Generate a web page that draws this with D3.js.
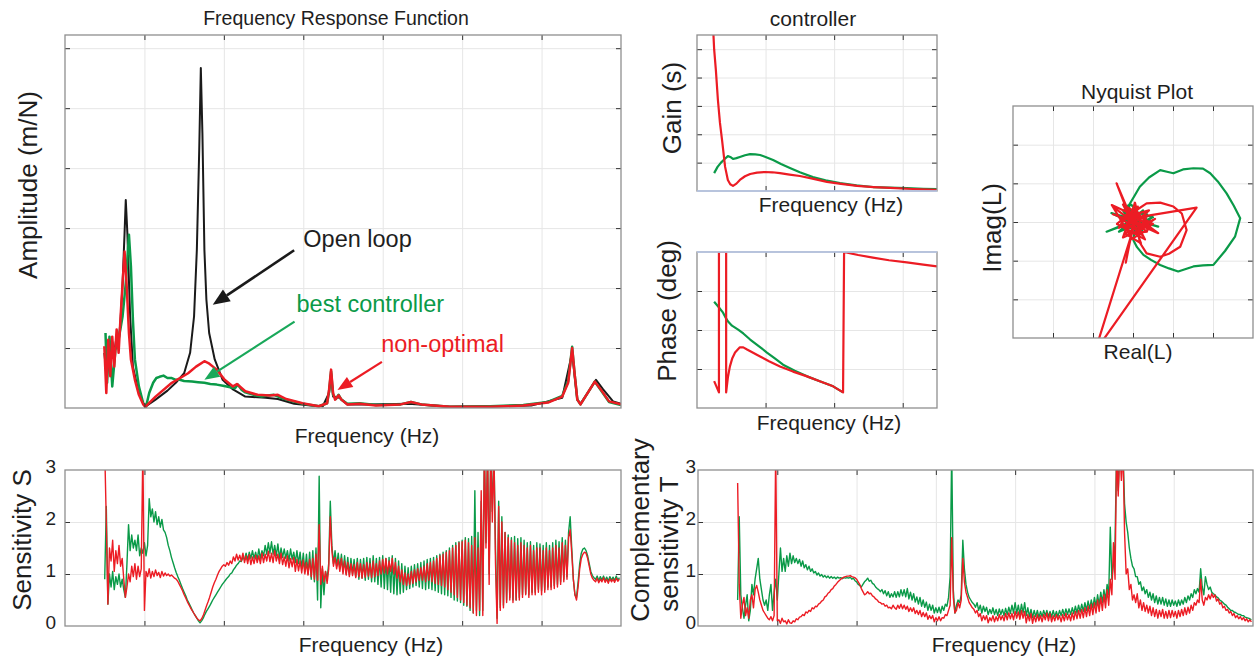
<!DOCTYPE html>
<html><head><meta charset="utf-8">
<script src="https://cdn.jsdelivr.net/npm/d3@7"></script>
<style>
body{margin:0;background:#fff;}
text{font-family:"Liberation Sans",Arial,Helvetica,sans-serif;fill:#1e1e1e;}
</style></head><body>
<script>
// ---------- data ----------
// Frequency response amplitude (m/N) vs frequency (Hz)
const frfBlack = [[99,0.92],[104,0.6],[109,1.03],[114,0.7],[119,1.1],[124,0.92],[130,1.2],[135,1.1],[140,1.47],[145,2.08],[150,2.92],[153,3.47],[157,2.92],[164,1.53],[171,0.69],[186,0.25],[197,0.08],[202,0.02],[228,0.14],[258,0.29],[279,0.42],[300,0.58],[315,0.92],[325,1.53],[332,2.64],[338,4.31],[342,5.67],[346,4.58],[351,2.64],[356,1.81],[363,1.25],[377,0.81],[397,0.47],[423,0.31],[454,0.19],[505,0.17],[536,0.15],[577,0.07],[619,0.04],[649,0.03],[665,0.25],[670,0.58],[675,0.19],[691,0.17],[711,0.06],[763,0.06],[866,0.07],[969,0.02],[1174,0.04],[1252,0.17],[1277,0.92],[1290,0.14],[1298,0.07],[1319,0.28],[1337,0.47],[1355,0.31],[1380,0.11],[1400,0.07]];
const frfGreen = [[102,1.25],[106,0.42],[112,1.19],[119,0.36],[127,0.97],[135,1.14],[145,1.53],[153,2.08],[161,2.89],[166,2.36],[171,1.47],[176,0.81],[186,0.36],[197,0.08],[204,0.02],[212,0.25],[222,0.42],[230,0.5],[238,0.52],[248,0.54],[258,0.5],[269,0.5],[279,0.47],[289,0.47],[300,0.45],[320,0.44],[335,0.43],[351,0.42],[366,0.4],[382,0.39],[398,0.37],[413,0.35],[428,0.33],[435,0.39],[445,0.3],[454,0.26],[475,0.22],[495,0.19],[510,0.21],[526,0.22],[540,0.18],[557,0.14],[598,0.07],[639,0.03],[660,0.08],[665,0.28],[670,0.61],[675,0.22],[682,0.15],[689,0.22],[696,0.14],[711,0.07],[742,0.08],[783,0.05],[845,0.06],[871,0.1],[897,0.06],[969,0.02],[1071,0.03],[1154,0.05],[1216,0.1],[1252,0.2],[1267,0.45],[1277,1.02],[1283,0.58],[1290,0.14],[1298,0.06],[1313,0.22],[1334,0.44],[1349,0.3],[1370,0.1],[1400,0.05]];
const frfRed = [[99,1.03],[104,0.25],[109,1.14],[114,0.53],[119,1.19],[124,0.69],[130,1.31],[135,0.92],[140,1.53],[145,2.08],[150,2.61],[155,2.08],[161,1.25],[166,0.81],[176,0.47],[186,0.22],[197,0.06],[202,0.02],[228,0.19],[269,0.42],[310,0.58],[330,0.69],[351,0.78],[361,0.75],[382,0.64],[402,0.47],[423,0.36],[433,0.4],[454,0.28],[485,0.22],[516,0.21],[536,0.22],[557,0.15],[598,0.08],[639,0.03],[660,0.08],[665,0.31],[670,0.64],[675,0.25],[680,0.14],[689,0.21],[696,0.14],[711,0.06],[742,0.07],[783,0.04],[845,0.06],[871,0.1],[897,0.06],[969,0.02],[1071,0.02],[1154,0.04],[1216,0.09],[1252,0.19],[1267,0.42],[1277,1.0],[1283,0.58],[1290,0.14],[1298,0.06],[1313,0.22],[1334,0.44],[1349,0.31],[1370,0.11],[1400,0.06]];

// Controller gain (s) and phase (deg) vs frequency (Hz)
const gainRed = [[44,6.5],[50,5.0],[55,4.27],[61,3.21],[67,2.4],[73,1.8],[82,0.85],[90,0.39],[97,0.24],[105,0.18],[115,0.26],[125,0.39],[140,0.52],[155,0.6],[175,0.65],[198,0.67],[220,0.66],[242,0.63],[270,0.58],[300,0.53],[340,0.43],[379,0.32],[420,0.25],[467,0.18],[515,0.14],[563,0.11],[630,0.07],[700,0.04]];
const gainGreen = [[50,0.63],[60,0.85],[70,1.0],[80,1.12],[90,1.23],[97,1.2],[105,1.13],[115,1.16],[125,1.2],[140,1.26],[155,1.3],[170,1.29],[184,1.27],[200,1.2],[222,1.09],[245,0.95],[271,0.81],[300,0.66],[338,0.49],[375,0.38],[417,0.28],[465,0.2],[513,0.14],[560,0.12],[612,0.1],[660,0.08],[700,0.07]];
const phaseRed = [[50,-118],[64,-144],[64,180],[85,180],[85,-144],[90,-110],[96,-84],[103,-65],[111,-52],[125,-40],[135,-40],[146,-45],[165,-53],[184,-61],[210,-72],[242,-84],[280,-96],[321,-107],[360,-119],[397,-130],[426,-144],[429,180],[470,173],[513,167],[560,161],[612,156],[660,151],[700,147]];
const phaseGreen = [[50,65],[63,53],[76,40],[84,28],[90,20],[102,10],[120,1],[135,-8],[155,-22],[180,-37],[204,-52],[228,-66],[251,-80],[285,-94],[321,-107],[360,-119],[397,-130],[426,-144]];

// Open-loop Nyquist curves [Re(L), Im(L)]
const nyqGreen = [[0,0],[-0.66,-0.25],[0.05,0.05],[0.63,-0.12],[-0.1,0.1],[-0.54,0.23],[0.1,-0.1],[0.42,0.05],[-0.3,-0.1],[-0.12,0.43],[0.2,-0.3],[0.35,0.2],[-0.25,0.3],[0.05,-0.2],[0.3,-0.05],[-0.2,-0.2],[0.25,0.3],[-0.35,-0.25],[0.5,0.12],[-0.2,0.35],[0.15,-0.35],[0.1,0.3],[-0.05,0.45],[-0.12,0.4],[0.05,0.7],[0.17,0.91],[0.4,1.15],[0.68,1.34],[0.85,1.3],[1.01,1.26],[1.25,1.36],[1.51,1.39],[1.75,1.38],[1.93,1.26],[2.12,1.05],[2.34,0.74],[2.52,0.42],[2.68,0.1],[2.55,-0.38],[2.3,-0.75],[2.01,-1.11],[1.75,-1.12],[1.51,-1.15],[1.13,-1.28],[0.9,-1.2],[0.68,-1.11],[0.45,-0.98],[0.26,-0.85],[0.1,-0.65],[0.01,-0.47],[0.05,-0.1]];
const nyqRed = [[0,0],[-0.41,1.0],[0,-0.1],[-0.18,-1.05],[0.05,0.15],[0.63,-0.29],[-0.1,0.05],[-0.5,0.2],[0.3,-0.1],[0.55,0.08],[-0.2,-0.3],[0.2,-0.55],[-0.1,0.3],[-0.35,-0.15],[0.35,0.15],[0.1,-0.25],[-0.25,0.45],[0.15,0.2],[0.45,-0.15],[-0.05,-0.45],[0,0.1],[0.25,-0.35],[-0.3,0.1],[0.4,0.3],[-0.15,-0.2],[0.12,0.4],[-0.4,-0.05],[0.3,-0.45],[-0.05,0.25],[0.5,-0.05],[-0.25,-0.4],[0.05,0.5],[0.2,-0.15],[-0.45,0.35],[0.35,-0.25],[-0.1,-0.3],[-0.53,0.44],[0.18,0.1],[0,0.1],[1.59,0.37],[-0.95,-3.35],[0,-0.2],[0.09,0.31],[0.34,0.48],[0.68,0.5],[1.01,0.4],[1.22,0.22],[1.34,-0.21],[1.18,-0.64],[0.9,-0.82],[0.68,-0.9],[0.34,-0.81],[0.18,-0.55],[0.1,-0.2]];

// Sensitivity S and complementary sensitivity T, sampled every 4 Hz from 100 Hz
const stFreq = d3.range(100, 1400, 4);
const sRed = [3.4,2.0,0.42,1.5,1.25,1.65,1.05,1.45,1.2,1.55,
1.15,1.3,0.9,0.55,0.75,1.0,0.85,1.15,0.95,1.2,
0.9,1.15,0.95,1.1,3.4,0.3,1.05,0.95,1.1,0.92,
1.05,0.95,1.08,0.97,1.03,0.93,1.05,0.96,1.02,0.97,
1.0,0.96,0.98,0.95,0.92,0.9,0.86,0.8,0.74,0.68,
0.6,0.54,0.47,0.41,0.35,0.3,0.25,0.2,0.15,0.12,
0.1,0.14,0.2,0.29,0.38,0.46,0.55,0.65,0.75,0.83,
0.9,0.98,1.05,1.1,1.15,1.18,1.15,1.22,1.17,1.25,
1.2,1.33,1.25,1.38,1.27,1.36,1.25,1.4,1.22,1.35,
1.2,1.37,1.18,1.33,1.2,1.36,1.22,1.35,1.2,1.4,
1.22,1.38,1.25,1.44,1.24,1.4,1.22,1.45,1.25,1.38,
1.2,1.4,1.18,1.33,1.15,1.35,1.12,1.3,1.14,1.32,
1.05,1.28,1.06,1.25,1.02,1.27,1.0,1.22,0.98,1.28,
0.95,1.3,0.9,1.38,0.88,1.95,0.8,1.15,0.85,1.05,
0.82,1.1,2.1,1.45,1.15,1.32,1.1,1.28,1.05,1.3,
1.0,1.25,0.98,1.22,0.95,1.2,0.97,1.18,0.93,1.22,
0.95,1.2,0.92,1.18,0.94,1.22,0.96,1.2,0.93,1.25,
0.95,1.2,0.97,1.25,1.0,1.28,1.02,1.3,1.0,1.25,
1.05,1.3,1.0,1.22,0.92,1.15,0.85,1.08,0.8,1.02,
0.78,1.0,0.8,1.05,0.82,1.08,0.85,1.1,0.88,1.12,
0.88,1.15,0.85,1.2,0.88,1.22,0.85,1.25,0.82,1.3,
0.8,1.35,0.78,1.38,0.75,1.42,0.7,1.45,0.65,1.5,
0.6,1.55,0.55,1.6,0.5,1.62,0.45,1.65,0.4,1.6,
0.35,1.55,0.25,1.7,0.2,1.5,0.3,2.6,0.2,3.4,
1.5,3.4,0.8,3.4,2.0,3.4,1.2,0.05,2.3,0.3,
2.0,0.35,1.8,0.45,1.7,0.5,1.65,0.45,1.6,0.5,
1.55,0.5,1.6,0.55,1.55,0.6,1.5,0.55,1.55,0.6,
1.45,0.6,1.5,0.65,1.5,0.6,1.45,0.65,1.5,0.7,
1.45,0.7,1.5,0.72,1.55,0.75,1.5,0.8,1.6,0.85,
1.55,0.9,1.7,1.85,1.4,0.9,0.6,0.5,0.75,1.1,
1.3,1.38,1.42,1.4,1.3,1.15,1.0,0.92,0.88,0.85,
0.92,0.83,0.9,0.85,0.93,0.84,0.9,0.82,0.91,0.85,
0.9,0.84,0.92,0.86,0.9];
const sGreen = [0.9,2.3,0.42,1.0,0.75,1.05,0.7,0.95,0.8,1.0,
0.75,0.9,0.7,0.55,1.2,1.95,1.45,1.75,1.5,1.65,
1.45,1.75,1.35,1.5,1.4,1.6,1.35,1.55,2.45,2.1,
2.25,2.0,2.2,1.95,2.1,1.9,2.05,1.85,1.8,1.7,
1.55,1.45,1.32,1.22,1.12,1.03,0.95,0.88,0.8,0.72,
0.65,0.58,0.5,0.44,0.38,0.31,0.25,0.2,0.15,0.1,
0.06,0.1,0.15,0.22,0.28,0.33,0.38,0.44,0.5,0.55,
0.6,0.65,0.7,0.75,0.8,0.84,0.88,0.92,0.95,1.0,
1.02,1.08,1.12,1.17,1.2,1.25,1.24,1.32,1.28,1.4,
1.27,1.42,1.3,1.45,1.3,1.42,1.28,1.48,1.3,1.45,
1.35,1.55,1.38,1.6,1.4,1.62,1.38,1.55,1.35,1.58,
1.3,1.5,1.32,1.48,1.3,1.45,1.25,1.48,1.28,1.42,
1.22,1.45,1.2,1.42,1.1,1.4,1.05,1.38,1.0,1.42,
0.9,1.45,0.85,1.5,0.5,2.88,0.35,1.1,0.6,1.05,
0.9,1.2,2.4,1.55,1.2,1.45,1.15,1.4,1.1,1.38,
1.05,1.35,1.0,1.32,0.98,1.3,1.0,1.28,0.95,1.3,
0.9,1.28,0.92,1.3,0.88,1.32,0.9,1.3,0.85,1.35,
0.85,1.3,0.8,1.32,0.75,1.35,0.72,1.3,0.7,1.32,
0.65,1.35,0.62,1.3,0.6,1.25,0.62,1.2,0.65,1.15,
0.7,1.12,0.72,1.15,0.75,1.18,0.78,1.2,0.75,1.22,
0.72,1.25,0.7,1.28,0.72,1.3,0.7,1.32,0.68,1.35,
0.65,1.38,0.62,1.42,0.6,1.45,0.58,1.5,0.55,1.55,
0.5,1.6,0.48,1.62,0.45,1.65,0.4,1.7,0.38,1.68,
0.3,1.72,0.25,2.6,0.3,1.8,0.2,2.4,0.3,3.4,
1.6,3.4,1.0,3.4,2.2,3.4,1.5,0.15,2.4,0.35,
2.1,0.4,1.8,0.5,1.75,0.55,1.7,0.5,1.72,0.5,
1.68,0.55,1.7,0.6,1.65,0.62,1.6,0.6,1.62,0.65,
1.55,0.65,1.6,0.7,1.58,0.68,1.55,0.7,1.6,0.75,
1.55,0.75,1.6,0.78,1.65,0.8,1.62,0.85,1.7,0.9,
1.65,0.95,1.8,2.1,1.5,0.9,0.6,0.55,0.85,1.2,
1.4,1.48,1.5,1.45,1.35,1.2,1.05,0.97,0.93,0.9,
0.96,0.87,0.95,0.88,0.96,0.87,0.94,0.86,0.95,0.88,
0.94,0.87,0.96,0.88,0.93];
const tRed = [2.75,0.8,0.15,0.4,0.55,0.2,0.35,0.15,0.5,0.6,
0.35,0.7,0.78,0.65,0.5,0.4,0.3,0.25,0.2,0.15,
0.12,0.18,0.1,0.2,3.4,0.1,0.12,0.05,0.15,0.08,
0.1,0.04,0.12,0.06,0.05,0.1,0.08,0.14,0.12,0.17,
0.18,0.22,0.2,0.27,0.25,0.3,0.28,0.35,0.33,0.38,
0.37,0.42,0.44,0.48,0.5,0.56,0.58,0.63,0.65,0.7,
0.72,0.77,0.8,0.84,0.87,0.9,0.92,0.94,0.95,0.96,
0.96,0.97,0.95,0.94,0.93,0.9,0.85,0.8,0.72,0.66,
0.6,0.62,0.66,0.62,0.63,0.58,0.56,0.52,0.5,0.46,
0.45,0.42,0.43,0.38,0.4,0.35,0.36,0.33,0.4,0.35,
0.32,0.4,0.34,0.42,0.33,0.4,0.32,0.38,0.28,0.35,
0.28,0.35,0.24,0.3,0.22,0.3,0.18,0.26,0.18,0.25,
0.13,0.2,0.14,0.2,0.08,0.16,0.1,0.18,0.1,0.16,
0.15,0.22,0.2,0.3,0.4,1.7,0.55,0.25,0.3,0.45,
0.35,0.5,1.3,0.85,0.65,0.55,0.45,0.4,0.35,0.32,
0.25,0.3,0.18,0.24,0.1,0.2,0.12,0.2,0.06,0.16,
0.1,0.2,0.08,0.18,0.1,0.22,0.12,0.2,0.1,0.24,
0.12,0.25,0.14,0.24,0.12,0.28,0.15,0.27,0.13,0.3,
0.15,0.28,0.06,0.22,0.1,0.24,0.05,0.2,0.08,0.22,
0.1,0.2,0.08,0.22,0.12,0.25,0.1,0.24,0.08,0.2,
0.1,0.22,0.12,0.2,0.08,0.22,0.1,0.24,0.12,0.22,
0.1,0.25,0.12,0.28,0.14,0.3,0.15,0.32,0.16,0.35,
0.18,0.38,0.2,0.42,0.22,0.45,0.25,0.5,0.28,0.55,
0.3,0.6,0.35,0.7,0.4,0.9,0.6,1.6,0.9,3.4,
2.5,3.4,2.8,3.4,1.8,1.0,1.1,0.7,0.8,0.5,
0.6,0.45,0.62,0.35,0.5,0.3,0.45,0.28,0.4,0.25,
0.38,0.2,0.35,0.18,0.32,0.15,0.3,0.18,0.32,0.15,
0.28,0.15,0.3,0.16,0.3,0.18,0.28,0.15,0.3,0.18,
0.32,0.2,0.35,0.22,0.36,0.25,0.4,0.3,0.45,0.4,
0.5,0.45,0.9,0.5,0.4,0.55,0.5,0.6,0.52,0.62,
0.55,0.6,0.48,0.52,0.42,0.45,0.35,0.38,0.3,0.32,
0.25,0.28,0.2,0.24,0.16,0.2,0.14,0.18,0.12,0.16,
0.1,0.14,0.08,0.12,0.08];
const tGreen = [0.5,2.1,0.6,0.35,0.15,0.4,0.6,0.1,0.3,0.8,
0.6,0.9,1.1,1.3,0.9,0.7,0.5,0.4,0.5,0.3,
0.6,0.8,0.3,0.65,0.9,0.5,1.0,1.5,1.05,1.3,
1.05,1.35,1.15,1.4,1.2,1.35,1.22,1.3,1.2,1.28,
1.15,1.25,1.12,1.18,1.08,1.15,1.05,1.1,1.02,1.05,
0.98,1.02,0.96,0.99,0.94,0.97,0.93,0.96,0.92,0.95,
0.92,0.94,0.91,0.94,0.92,0.93,0.91,0.93,0.92,0.93,
0.92,0.94,0.9,0.92,0.87,0.85,0.8,0.78,0.75,0.8,
0.85,0.88,0.92,0.86,0.88,0.82,0.8,0.75,0.72,0.7,
0.66,0.7,0.62,0.68,0.58,0.66,0.55,0.62,0.56,0.66,
0.55,0.66,0.56,0.7,0.58,0.7,0.56,0.72,0.52,0.65,
0.5,0.62,0.46,0.56,0.42,0.55,0.38,0.5,0.36,0.46,
0.3,0.42,0.3,0.4,0.25,0.35,0.26,0.36,0.25,0.38,
0.3,0.42,0.38,0.55,0.95,3.4,0.7,0.25,0.4,0.5,
0.45,0.6,1.65,1.1,0.8,0.65,0.55,0.5,0.45,0.42,
0.36,0.45,0.3,0.4,0.25,0.38,0.28,0.36,0.22,0.32,
0.24,0.35,0.22,0.32,0.2,0.33,0.22,0.32,0.2,0.34,
0.22,0.36,0.24,0.4,0.25,0.45,0.24,0.4,0.22,0.42,
0.25,0.45,0.2,0.35,0.18,0.32,0.16,0.3,0.18,0.3,
0.16,0.28,0.18,0.3,0.2,0.3,0.18,0.28,0.17,0.3,
0.18,0.28,0.18,0.3,0.2,0.32,0.2,0.33,0.22,0.33,
0.22,0.35,0.24,0.38,0.25,0.4,0.27,0.42,0.28,0.45,
0.3,0.48,0.33,0.5,0.35,0.55,0.38,0.6,0.4,0.65,
0.45,0.7,0.5,0.8,0.6,1.9,0.9,1.2,1.6,3.4,
2.6,3.4,3.0,3.4,2.35,2.0,1.8,1.5,1.3,1.15,
1.1,0.95,0.95,0.8,0.85,0.68,0.75,0.62,0.7,0.55,
0.65,0.5,0.62,0.45,0.58,0.42,0.55,0.42,0.55,0.4,
0.52,0.38,0.5,0.38,0.5,0.4,0.48,0.38,0.5,0.4,
0.5,0.42,0.55,0.45,0.58,0.5,0.62,0.55,0.7,0.62,
0.72,0.65,1.1,0.75,0.6,0.95,0.8,0.7,0.75,0.65,
0.62,0.6,0.56,0.54,0.5,0.48,0.45,0.42,0.4,0.36,
0.33,0.3,0.3,0.27,0.26,0.24,0.22,0.22,0.2,0.2,
0.17,0.16,0.15,0.14,0.12];

const freqTicks = [200,400,600,800,1000,1200];
const ctrlTicks = [200,400,600];
const stLabels = [0,1,2,3];

// ---------- drawing ----------
const RED = "#ec1c24", GREEN = "#0a9a48", BLACK = "#1a1a1a";
const svg = d3.select("body").append("svg").attr("width",1255).attr("height",663);
let clipCount = 0;

function panel(o) {
  const x = d3.scaleLinear().domain(o.xd).range([o.x0, o.x1]);
  const y = d3.scaleLinear().domain(o.yd).range([o.y1, o.y0]);
  const w = o.x1 - o.x0, h = o.y1 - o.y0;
  const id = "clip" + (clipCount++);
  svg.append("clipPath").attr("id", id).append("rect")
    .attr("x", o.x0).attr("y", o.y0).attr("width", w).attr("height", h);
  const grid = svg.append("g");
  grid.append("g").attr("transform", `translate(0,${o.y1})`)
    .call(d3.axisBottom(x).tickValues(o.xt).tickSize(-h).tickFormat(""));
  grid.append("g").attr("transform", `translate(${o.x0},0)`)
    .call(d3.axisLeft(y).tickValues(o.yt).tickSize(-w).tickFormat(""));
  grid.selectAll(".domain").remove();
  grid.selectAll("line").attr("stroke", "#e6e6e6").attr("stroke-width", 1);
  const plot = svg.append("g").attr("clip-path", `url(#${id})`);
  const frame = svg.append("g");
  const tk = [
    [d3.axisBottom(x).tickValues(o.xt), `translate(0,${o.y1})`],
    [d3.axisTop(x).tickValues(o.xt), `translate(0,${o.y0})`],
    [d3.axisLeft(y).tickValues(o.yt), `translate(${o.x0},0)`],
    [d3.axisRight(y).tickValues(o.yt), `translate(${o.x1},0)`]
  ];
  tk.forEach(([ax, tr]) => {
    frame.append("g").attr("transform", tr)
      .call(ax.tickSizeInner(-5).tickSizeOuter(0).tickFormat(""));
  });
  frame.selectAll(".domain").remove();
  frame.selectAll("line").attr("stroke", "#333").attr("stroke-width", 1);
  frame.append("rect").attr("x", o.x0).attr("y", o.y0).attr("width", w).attr("height", h)
    .attr("fill", "none").attr("stroke", "#8f8f8f").attr("stroke-width", 1.3);
  return {x, y, plot, frame};
}

function curve(p, data, color, width) {
  p.plot.append("path").datum(data)
    .attr("d", d3.line().x(d => p.x(d[0])).y(d => p.y(d[1])))
    .attr("fill", "none").attr("stroke", color).attr("stroke-width", width)
    .attr("stroke-linejoin", "round");
}

function label(x, y, txt, size, rotate, color) {
  const t = svg.append("text").attr("text-anchor", "middle").attr("font-size", size).text(txt);
  if (rotate) t.attr("transform", `translate(${x},${y}) rotate(-90)`).attr("dy", "0.35em");
  else t.attr("x", x).attr("y", y);
  if (color) t.style("fill", color);
  return t;
}

function arrow(p, from, to, color, width, headLen, headHalf) {
  const x1 = p.x(from[0]), y1 = p.y(from[1]), x2 = p.x(to[0]), y2 = p.y(to[1]);
  const a = Math.atan2(y2 - y1, x2 - x1);
  const bx = x2 - headLen * Math.cos(a), by = y2 - headLen * Math.sin(a);
  svg.append("line").attr("x1", x1).attr("y1", y1).attr("x2", bx).attr("y2", by)
    .attr("stroke", color).attr("stroke-width", width);
  const nx = -Math.sin(a) * headHalf, ny = Math.cos(a) * headHalf;
  svg.append("path").attr("d", `M${x2},${y2}L${bx + nx},${by + ny}L${bx - nx},${by - ny}Z`)
    .attr("fill", color);
}

function valueAxis(p, x0, pad) {
  svg.append("g").attr("transform", `translate(${x0},0)`)
    .call(d3.axisLeft(p.y).tickValues(stLabels).tickSize(0).tickPadding(pad).tickFormat(d3.format("d")))
    .call(g => g.select(".domain").remove())
    .selectAll("text").attr("font-size", 19).attr("dy", "0.12em")
    .style("font-family", "'Liberation Sans',Arial,sans-serif").style("fill", "#1e1e1e");
}

// Frequency response function
const frf = panel({x0:65, x1:621, y0:35, y1:408, xd:[0,1400], yd:[0,6.22], xt:freqTicks, yt:[1,2,3,4,5,6]});
curve(frf, frfBlack, BLACK, 2);
curve(frf, frfGreen, GREEN, 2.5);
curve(frf, frfRed, RED, 2.5);
label(336, 25, "Frequency Response Function", 19.5);
label(367, 443, "Frequency (Hz)", 21);
label(28, 185, "Amplitude (m/N)", 26, true);
arrow(frf, [577,2.63], [372,1.72], BLACK, 2.6, 17, 7);
svg.append("text").attr("x", frf.x(600)).attr("y", frf.y(2.68)).attr("font-size", 23.5).text("Open loop");
arrow(frf, [578,1.44], [351,0.47], "#19a85a", 2.2, 15, 6);
svg.append("text").attr("x", frf.x(583)).attr("y", frf.y(1.6)).attr("font-size", 23.5).style("fill", GREEN).text("best controller");
arrow(frf, [798,0.77], [686,0.30], RED, 2.2, 15, 6);
svg.append("text").attr("x", frf.x(796)).attr("y", frf.y(0.93)).attr("font-size", 23.5).style("fill", RED).text("non-optimal");

// Controller gain
const gain = panel({x0:697, x1:937, y0:35, y1:191, xd:[0,700], yd:[0,5.5], xt:ctrlTicks, yt:[1,2,3,4,5]});
gain.frame.append("line").attr("x1", 697).attr("x2", 937).attr("y1", gain.y(0)).attr("y2", gain.y(0))
  .attr("stroke", "#b9c9ea").attr("stroke-width", 1.5);
curve(gain, gainGreen, GREEN, 2.2);
curve(gain, gainRed, RED, 2.2);
label(813, 26, "controller", 21);
label(831, 212, "Frequency (Hz)", 21);
label(672, 108, "Gain (s)", 26, true);

// Controller phase
const phase = panel({x0:697, x1:937, y0:252, y1:408, xd:[0,700], yd:[-180,180], xt:ctrlTicks, yt:[-90,0,90]});
phase.frame.append("line").attr("x1", 697).attr("x2", 937).attr("y1", phase.y(180)).attr("y2", phase.y(180))
  .attr("stroke", "#b9c9ea").attr("stroke-width", 1.5);
curve(phase, phaseGreen, GREEN, 2.2);
curve(phase, phaseRed, RED, 2.2);
label(829, 430, "Frequency (Hz)", 21);
label(667, 311, "Phase (deg)", 26, true);

// Nyquist plot
const nyq = panel({x0:1013, x1:1253, y0:106, y1:338, xd:[-3,3], yd:[-3,3], xt:[-2,-1,0,1,2], yt:[-2,-1,0,1,2]});
curve(nyq, nyqGreen, GREEN, 2.2);
curve(nyq, nyqRed, RED, 2.2);
label(1137, 99, "Nyquist Plot", 21);
label(1138, 359, "Real(L)", 21);
label(992, 228, "Imag(L)", 26, true);

// Sensitivity S
const sens = panel({x0:65, x1:621, y0:470, y1:626, xd:[0,1400], yd:[0,3], xt:freqTicks, yt:[1,2]});
curve(sens, stFreq.map((f, i) => [f, sGreen[i]]), GREEN, 1.4);
curve(sens, stFreq.map((f, i) => [f, sRed[i]]), RED, 1.4);
valueAxis(sens, 65, 9);
label(371, 652, "Frequency (Hz)", 21);
label(22, 540, "Sensitivity S", 26, true);

// Complementary sensitivity T
const comp = panel({x0:698, x1:1253, y0:470, y1:626, xd:[0,1400], yd:[0,3], xt:freqTicks, yt:[1,2]});
curve(comp, stFreq.map((f, i) => [f, tGreen[i]]), GREEN, 1.4);
curve(comp, stFreq.map((f, i) => [f, tRed[i]]), RED, 1.4);
valueAxis(comp, 698, 2);
label(1004, 652, "Frequency (Hz)", 21);
label(640, 530, "Complementary", 26, true);
label(669, 544, "sensitivity T", 26, true);
</script></body></html>
